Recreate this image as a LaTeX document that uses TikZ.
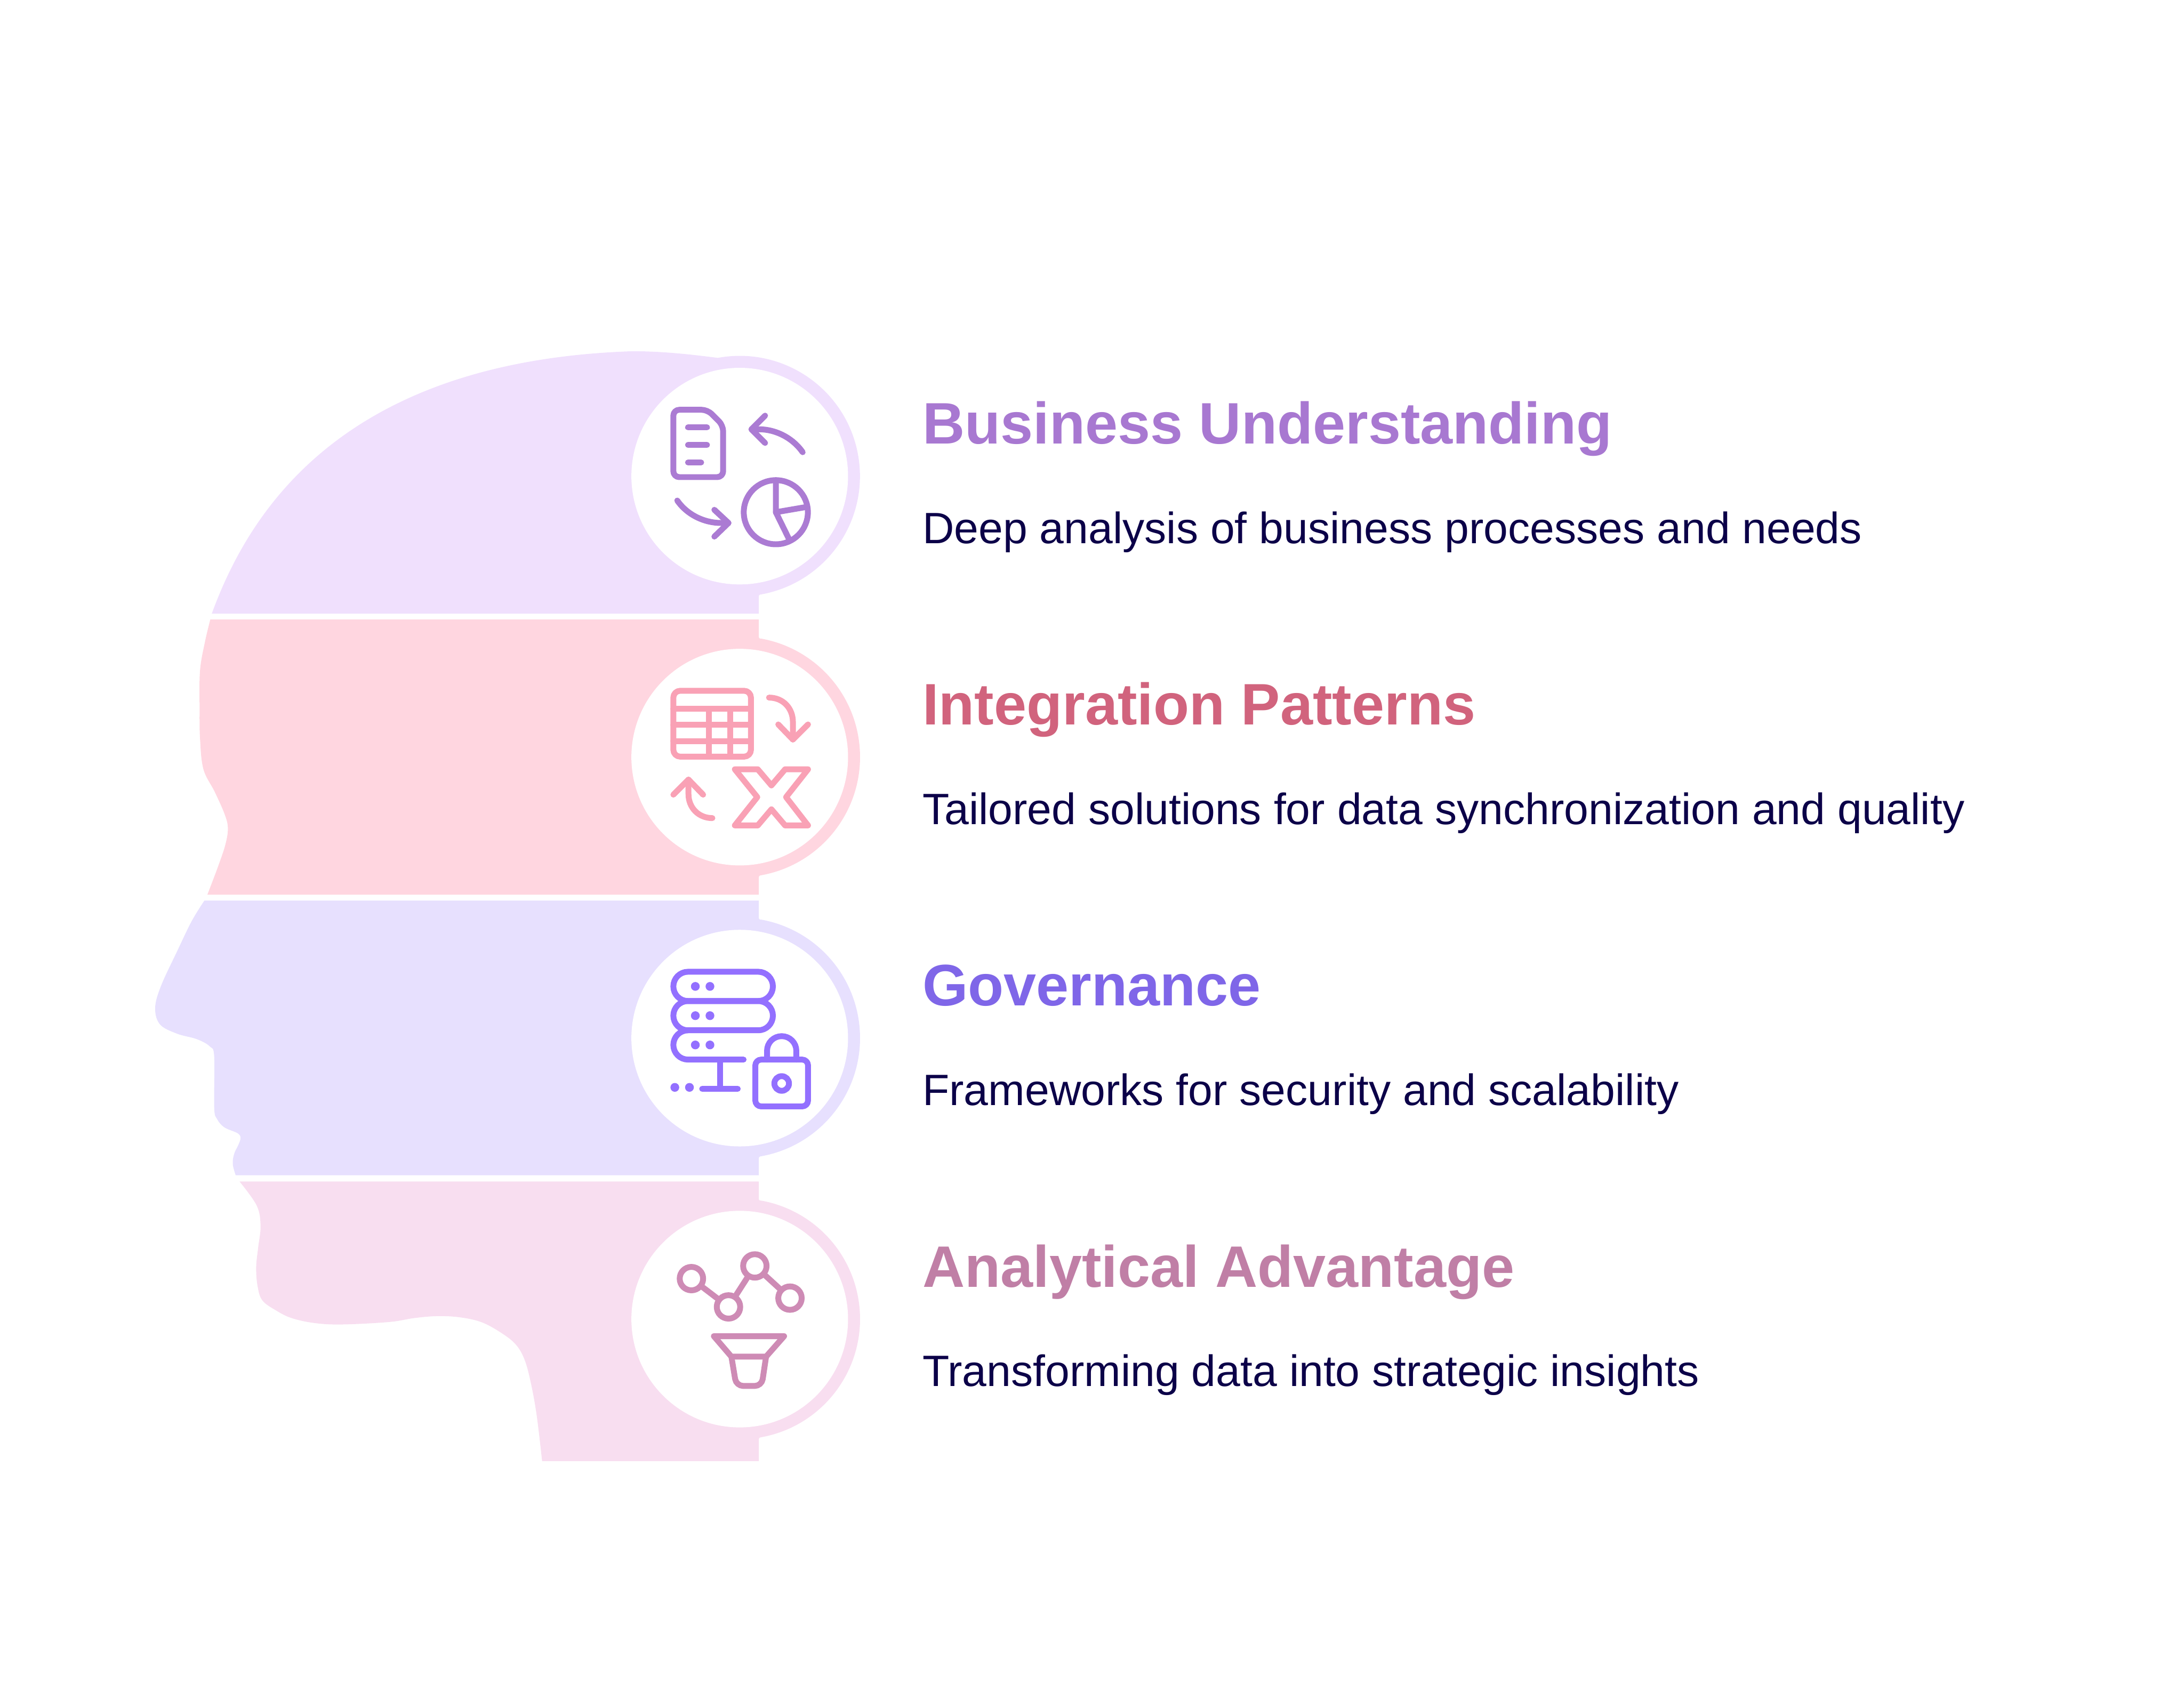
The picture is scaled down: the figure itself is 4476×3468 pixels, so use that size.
\documentclass[tikz,border=0pt]{standalone}
\usepackage{xcolor}
\usepackage{fontspec}
\setmainfont{Liberation Sans}
\usetikzlibrary{positioning, calc}

\definecolor{bandA}{HTML}{F0E0FD}
\definecolor{bandB}{HTML}{FFD6E0}
\definecolor{bandC}{HTML}{E7E0FE}
\definecolor{bandD}{HTML}{F8DEF0}
\definecolor{iconA}{HTML}{AB7BD3}
\definecolor{iconB}{HTML}{F9A1B5}
\definecolor{iconC}{HTML}{9370FF}
\definecolor{iconD}{HTML}{CE8BB5}
\definecolor{titleA}{HTML}{A878D1}
\definecolor{titleB}{HTML}{D1637D}
\definecolor{titleC}{HTML}{7F66E8}
\definecolor{titleD}{HTML}{C07FA6}
\definecolor{descink}{HTML}{0B0048}

\tikzset{
    iconline/.style={line width=1.2mm, line cap=round, line join=round},
    hubdot/.style={circle, draw=iconD, line width=1.2mm, minimum size=4.8mm, inner sep=0pt},
    titletext/.style={anchor=base west, inner sep=0pt, font=\fontsize{34.14}{40}\selectfont\bfseries},
    desctext/.style={anchor=base west, inner sep=0pt, text=descink, font=\fontsize{25.6}{30}\selectfont}
}

\begin{document}
\begin{tikzpicture}[x=0.1mm, y=-0.1mm]
    \useasboundingbox (0,0) rectangle (4476,3468);

    \fill[bandA] (434,1258) .. controls (510,1050) and (700,740) .. (1296,720) .. controls (1360,720) and (1420,727) .. (1471,733.6)
        arc[start angle=-100.5, end angle=79.5, radius=246.5] .. controls (1555,1219) .. (1555,1228) -- (1555,1258) -- cycle;
    \fill[bandB] plot[smooth, tension=0.6] coordinates {(431,1270) (420,1316) (410,1374) (409,1449) (410,1515) (417,1577) (440,1623) (460,1668) (467,1697) (462,1731) (447,1776) (425,1834)}
        -- (1555,1834) -- (1555,1804) .. controls (1555,1795) .. (1561,1794) arc[start angle=79.5, end angle=-79.5, radius=246.5] .. controls (1555,1309) .. (1555,1300) -- (1555,1270) -- cycle;
    \fill[bandC] plot[smooth, tension=0.6] coordinates {(419,1846) (393,1888) (363,1950) (330,2021) (318,2066) (328,2100) (363,2119) (403,2130) (430,2145) (439,2166) (439,2270) (445,2294) (460,2311) (487,2323) (493,2333) (488,2348) (480,2365) (477,2386) (483,2409)}
        -- (1555,2409) -- (1555,2380) .. controls (1555,2371) .. (1561,2370) arc[start angle=79.5, end angle=-79.5, radius=246.5] .. controls (1555,1885) .. (1555,1876) -- (1555,1846) -- cycle;
    \fill[bandD] plot[smooth, tension=0.6] coordinates {(491,2422) (526,2471) (534,2513) (529,2558) (525,2598) (528,2637) (538,2666) (567,2687) (598,2702) (644,2712) (700,2715) (797,2710) (848,2702) (894,2698) (940,2700) (986,2710) (1027,2732) (1057,2756) (1075,2787) (1088,2835) (1100,2902) (1111,2995)}
        -- (1555,2995) -- (1555,2956) .. controls (1555,2947) .. (1561,2946) arc[start angle=79.5, end angle=-79.5, radius=246.5] .. controls (1555,2461) .. (1555,2452) -- (1555,2422) -- cycle;

    \fill[white] (1516,976) circle[radius=222];
    \fill[white] (1516,1552) circle[radius=222];
    \fill[white] (1516,2128) circle[radius=222];
    \fill[white] (1516,2704) circle[radius=222];

    % document, pie and arrows
    \draw[iconline, iconA, rounded corners=1.2mm] (1450,840) -- (1482,872) -- (1482,978) -- (1380,978) -- (1380,840) -- cycle;
    \draw[iconline, iconA] (1410,876) -- (1449,876);
    \draw[iconline, iconA] (1410,912) -- (1449,912);
    \draw[iconline, iconA] (1410,948) -- (1437,948);
    \draw[iconline, iconA] (1568,852) -- (1540,880) -- (1568,908);
    \draw[iconline, iconA] (1540,880) -- (1556,880) .. controls (1590,880) and (1625,898) .. (1645,927);
    \draw[iconline, iconA] (1388,1026) .. controls (1408,1055) and (1443,1072) .. (1478,1072) -- (1493,1072);
    \draw[iconline, iconA] (1464,1045) -- (1493,1072) -- (1464,1100);
    \draw[iconline, iconA] (1590,1050) circle[radius=65.7];
    \draw[iconline, iconA] (1590,984) -- (1590,1050) -- (1654,1039);
    \draw[iconline, iconA] (1590,1050) -- (1618,1107);

    % table, cross and arrows
    \draw[iconline, iconB, rounded corners=1.4mm] (1380,1416) rectangle (1539,1551);
    \draw[iconline, iconB] (1380,1453) -- (1539,1453);
    \draw[iconline, iconB] (1380,1486) -- (1539,1486);
    \draw[iconline, iconB] (1380,1519) -- (1539,1519);
    \draw[iconline, iconB] (1453,1453) -- (1453,1551);
    \draw[iconline, iconB] (1496,1453) -- (1496,1551);
    \draw[iconline, iconB] (1576,1430) .. controls (1605,1430) and (1625,1452) .. (1625,1480) -- (1625,1516);
    \draw[iconline, iconB] (1595,1485) -- (1625,1516) -- (1656,1485);
    \draw[iconline, iconB] (1460,1677) .. controls (1431,1677) and (1411,1655) .. (1411,1628) -- (1411,1598);
    \draw[iconline, iconB] (1380,1629) -- (1411,1598) -- (1441,1629);
    \draw[iconline, iconB] (1506,1577) -- (1553,1577) -- (1581,1610) -- (1609,1577) -- (1656,1577) -- (1611,1634) -- (1656,1692) -- (1609,1692) -- (1581,1659) -- (1553,1692) -- (1506,1692) -- (1552,1634) -- cycle;

    % server and lock
    \draw[iconline, iconC, rounded corners=3mm] (1380,1992) rectangle (1584,2052);
    \draw[iconline, iconC, rounded corners=3mm] (1380,2052) rectangle (1584,2112);
    \draw[iconline, iconC, rounded corners=3mm] (1410,2112) -- (1380,2112) -- (1380,2172) -- (1524,2172);
    \fill[iconC] (1425,2022) circle[radius=9];
    \fill[iconC] (1455,2022) circle[radius=9];
    \fill[iconC] (1425,2082) circle[radius=9];
    \fill[iconC] (1455,2082) circle[radius=9];
    \fill[iconC] (1425,2142) circle[radius=9];
    \fill[iconC] (1455,2142) circle[radius=9];
    \fill[iconC] (1383,2229) circle[radius=9];
    \fill[iconC] (1413,2229) circle[radius=9];
    \draw[iconline, iconC] (1476,2172) -- (1476,2232);
    \draw[iconline, iconC] (1439,2232) -- (1512,2232);
    \draw[iconline, iconC, rounded corners=1.2mm] (1548,2172) rectangle (1656,2268);
    \draw[iconline, iconC, rounded corners=3mm] (1572,2172) -- (1572,2124) -- (1632,2124) -- (1632,2172);
    \draw[iconline, iconC] (1602,2221) circle[radius=15];

    % chart and funnel
    \node[hubdot] (hubA) at (1417,2621) {};
    \node[hubdot] (hubB) at (1493,2679) {};
    \node[hubdot] (hubC) at (1547,2595) {};
    \node[hubdot] (hubD) at (1619,2661) {};
    \draw[iconline, iconD] (hubA) -- (hubB);
    \draw[iconline, iconD] (hubB) -- (hubC);
    \draw[iconline, iconD] (hubC) -- (hubD);
    \draw[iconline, iconD] (1499,2781) -- (1463,2739) -- (1607,2739) -- (1570,2781) -- cycle;
    \draw[iconline, iconD, rounded corners=1.4mm] (1499,2781) -- (1509,2841) -- (1561,2841) -- (1570,2781);

    \node[titletext, text=titleA] (titleBusiness) at (1890,910) {Business Understanding};
    \node[desctext] (descBusiness) at ($(titleBusiness.base west)+(0,204)$) {Deep analysis of business processes and needs};
    \node[titletext, text=titleB] (titleIntegration) at (1890,1486) {Integration Patterns};
    \node[desctext] (descIntegration) at ($(titleIntegration.base west)+(0,204)$) {Tailored solutions for data synchronization and quality};
    \node[titletext, text=titleC] (titleGovernance) at (1890,2062) {Governance};
    \node[desctext] (descGovernance) at ($(titleGovernance.base west)+(0,204)$) {Frameworks for security and scalability};
    \node[titletext, text=titleD] (titleAnalytical) at (1890,2638) {Analytical Advantage};
    \node[desctext] (descAnalytical) at ($(titleAnalytical.base west)+(0,204)$) {Transforming data into strategic insights};
\end{tikzpicture}
\end{document}
